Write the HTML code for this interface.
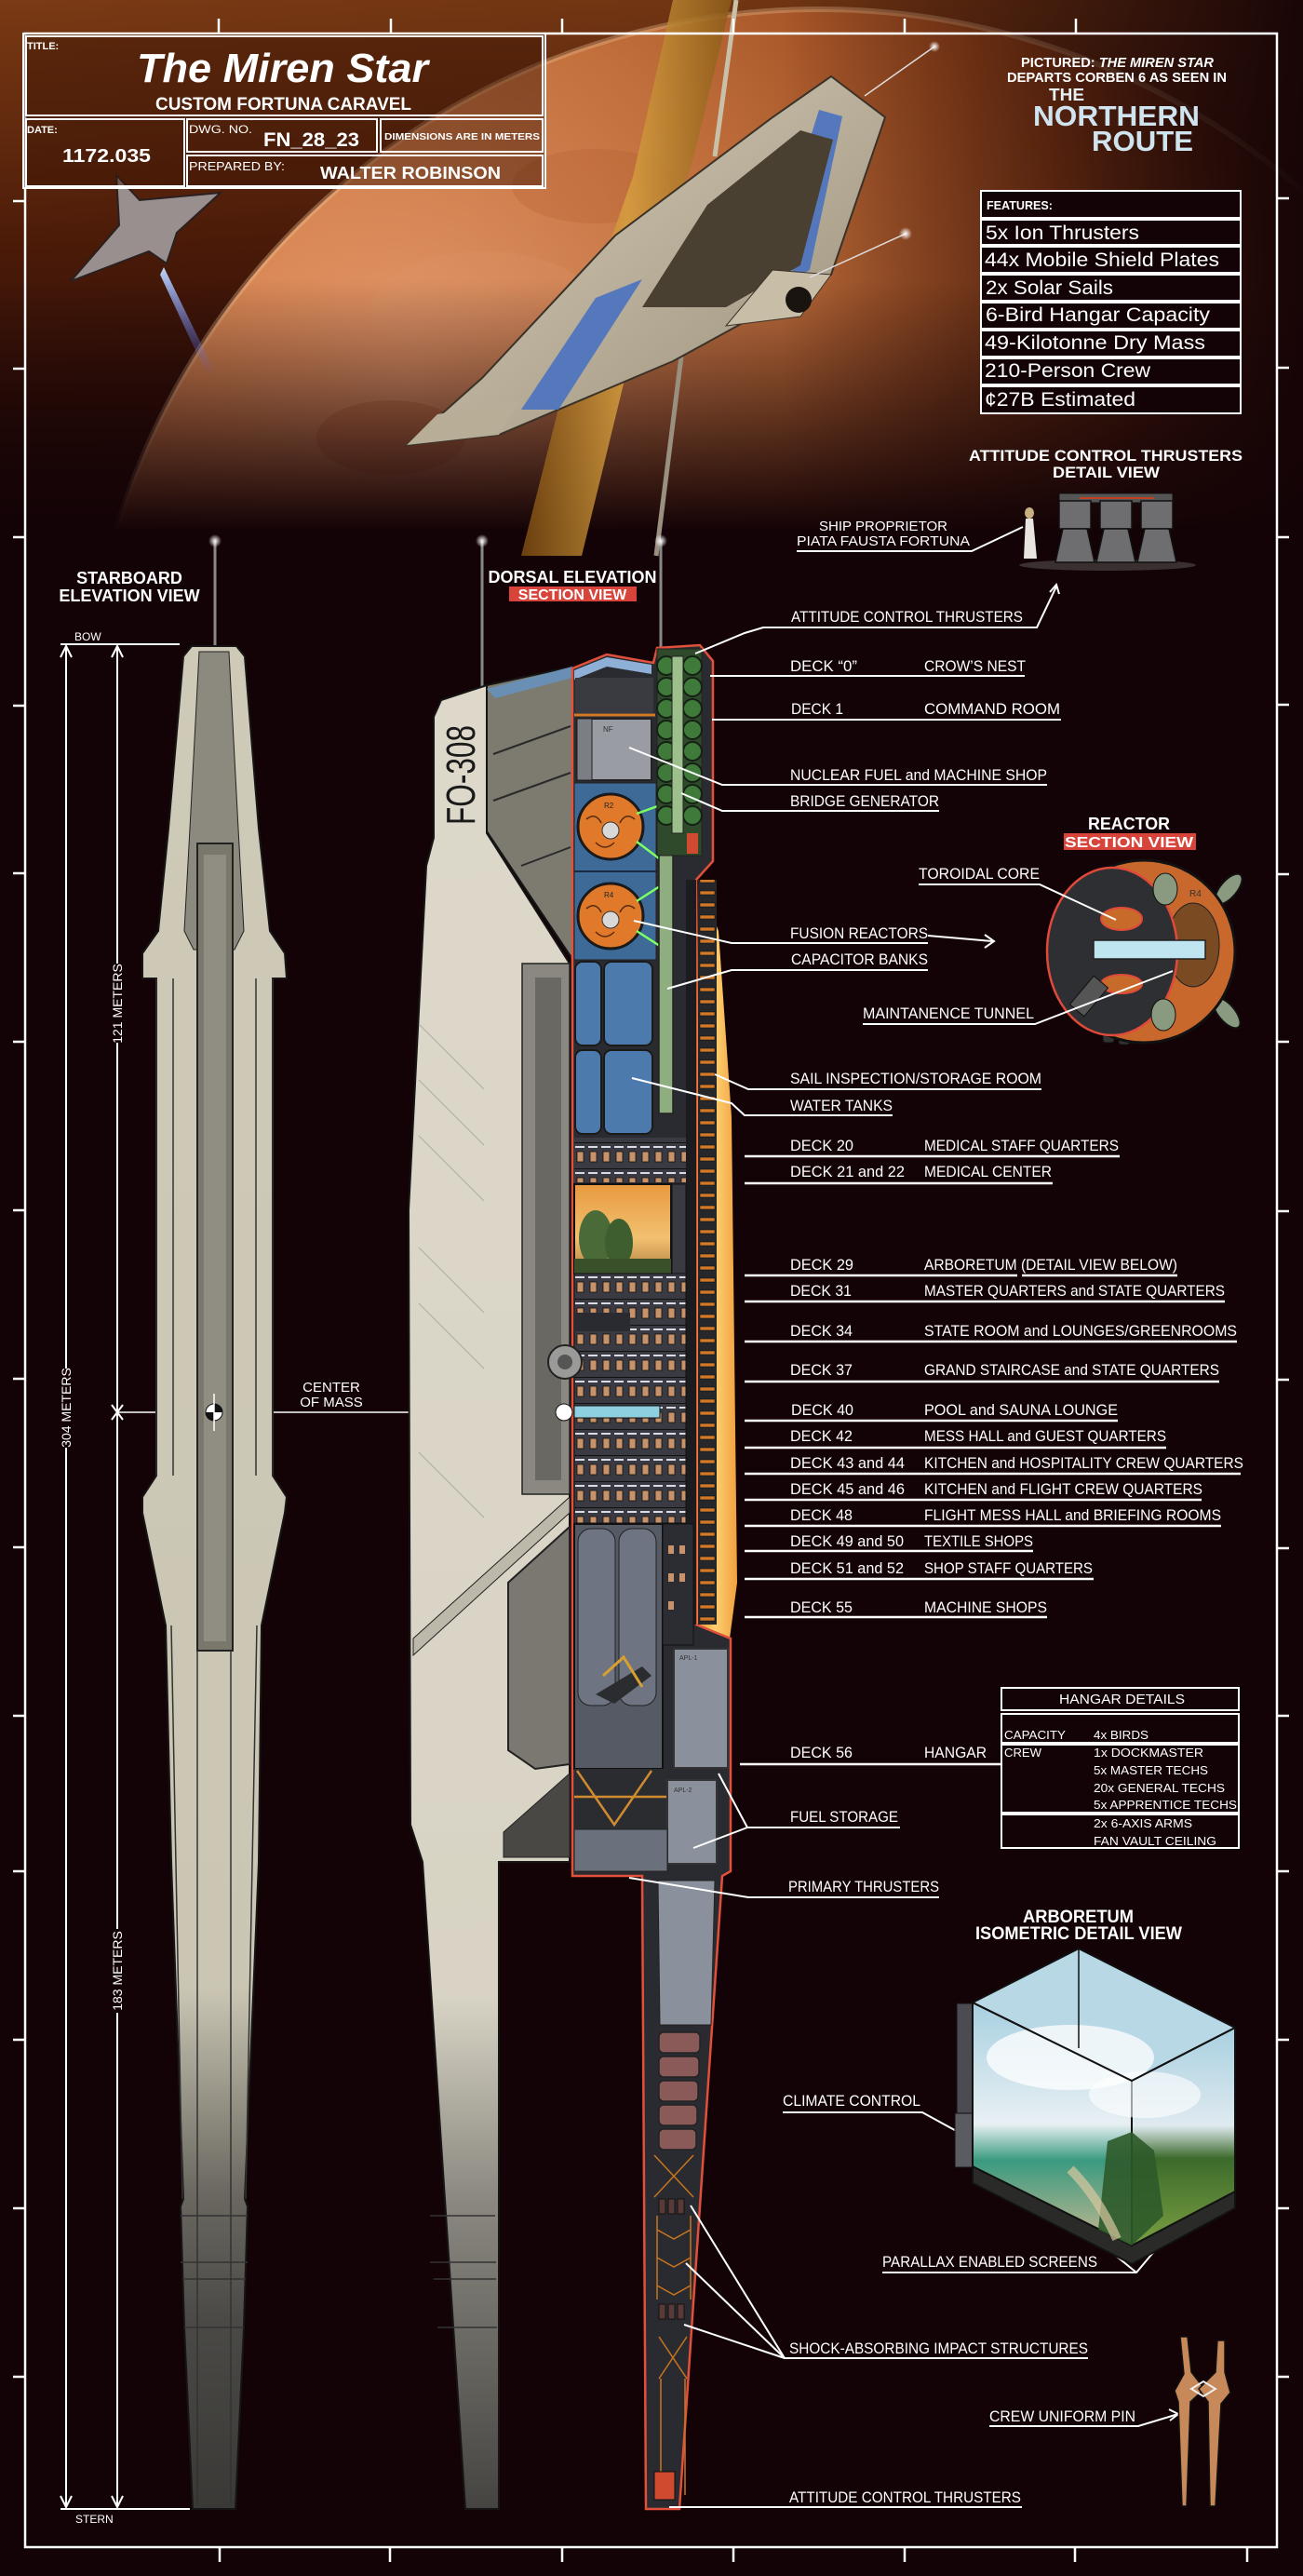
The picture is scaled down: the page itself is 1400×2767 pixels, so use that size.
<!DOCTYPE html>
<html><head><meta charset="utf-8"><style>
html,body{margin:0;padding:0;background:#140306;}
svg{display:block}
text{font-family:"Liberation Sans",sans-serif;fill:#fff}
.l{font-size:17px}
.b{font-weight:bold}
.ln{stroke:#fff;stroke-width:2;fill:none}
.ul{stroke:#fff;stroke-width:2.5;fill:none}
.bx{stroke:#fff;stroke-width:2;fill:none}
.ol{stroke:#151515;stroke-width:2}
</style></head><body>
<svg width="1400" height="2767" viewBox="0 0 1400 2767" xmlns="http://www.w3.org/2000/svg">
<defs>
<clipPath id="topclip"><rect x="0" y="0" width="1400" height="600"/></clipPath>
<linearGradient id="sky" x1="0" y1="0" x2="0" y2="1">
<stop offset="0" stop-color="#7a3a14"/><stop offset="0.45" stop-color="#4a1a08"/><stop offset="1" stop-color="#140306"/></linearGradient>
<radialGradient id="planet" cx="0.22" cy="0.25" r="0.85">
<stop offset="0" stop-color="#f0a070"/><stop offset="0.3" stop-color="#d07840"/><stop offset="0.55" stop-color="#a04818"/><stop offset="0.8" stop-color="#4a1808"/><stop offset="1" stop-color="#1a0505"/></radialGradient>
<linearGradient id="fade" x1="0" y1="0" x2="0" y2="1">
<stop offset="0" stop-color="#140306" stop-opacity="0"/><stop offset="1" stop-color="#140306" stop-opacity="1"/></linearGradient>
<linearGradient id="rfade" x1="0" y1="0" x2="1" y2="0">
<stop offset="0" stop-color="#140306" stop-opacity="0"/><stop offset="0.6" stop-color="#140306" stop-opacity="0.1"/><stop offset="1" stop-color="#140306" stop-opacity="0.95"/></linearGradient>
<linearGradient id="sail" x1="0" y1="0" x2="1" y2="0">
<stop offset="0" stop-color="#7a4a10"/><stop offset="0.5" stop-color="#d8a040"/><stop offset="1" stop-color="#8a5a18"/></linearGradient>
<linearGradient id="hullT" x1="0" y1="0" x2="1" y2="1">
<stop offset="0" stop-color="#d8d0bc"/><stop offset="1" stop-color="#9a8e78"/></linearGradient>
<linearGradient id="starb" x1="0" y1="0" x2="0" y2="1">
<stop offset="0" stop-color="#cfcab8"/><stop offset="0.72" stop-color="#cbc6b4"/><stop offset="0.83" stop-color="#6a6860"/><stop offset="0.9" stop-color="#4a4946"/><stop offset="1" stop-color="#3a3936"/></linearGradient>
<linearGradient id="dors" x1="0" y1="0" x2="0" y2="1">
<stop offset="0" stop-color="#ddd8ca"/><stop offset="0.72" stop-color="#d8d3c4"/><stop offset="0.83" stop-color="#8a8880"/><stop offset="1" stop-color="#454441"/></linearGradient>
<linearGradient id="glow" x1="0" y1="0" x2="1" y2="0">
<stop offset="0" stop-color="#e08a20"/><stop offset="0.5" stop-color="#ffcf70"/><stop offset="1" stop-color="#f0a040"/></linearGradient>
<linearGradient id="arb" x1="0" y1="0" x2="0" y2="1">
<stop offset="0" stop-color="#e89a40"/><stop offset="0.6" stop-color="#f2c070"/><stop offset="1" stop-color="#b08040"/></linearGradient>
<linearGradient id="cubeL" x1="0" y1="0" x2="0" y2="1">
<stop offset="0" stop-color="#a8d0e0"/><stop offset="0.5" stop-color="#e8f0f4"/><stop offset="0.65" stop-color="#3a9a80"/><stop offset="1" stop-color="#c8b890"/></linearGradient>
<linearGradient id="cubeR" x1="0" y1="0" x2="0" y2="1">
<stop offset="0" stop-color="#a8d0e0"/><stop offset="0.45" stop-color="#dfeaf0"/><stop offset="0.6" stop-color="#3c6a2c"/><stop offset="1" stop-color="#7aa040"/></linearGradient>
<radialGradient id="star"><stop offset="0" stop-color="#fff"/><stop offset="0.4" stop-color="#fff" stop-opacity="0.6"/><stop offset="1" stop-color="#fff" stop-opacity="0"/></radialGradient>
<linearGradient id="trail" x1="0" y1="0" x2="0" y2="1"><stop offset="0" stop-color="#c0d8ff"/><stop offset="1" stop-color="#4060ff" stop-opacity="0"/></linearGradient>
<pattern id="win" width="14" height="28" patternUnits="userSpaceOnUse" x="617" y="1368">
<rect width="14" height="28" fill="#3a3b42"/><rect x="3" y="9" width="7" height="11" fill="#c8936a" stroke="#111" stroke-width="0.8"/><rect x="1" y="3" width="10" height="2" fill="#d8dce4"/><line x1="0" y1="27.5" x2="14" y2="27.5" stroke="#111"/></pattern>
<pattern id="rung" width="20" height="13" patternUnits="userSpaceOnUse" x="750" y="940">
<rect width="20" height="13" fill="#26272b"/><rect x="2" y="4" width="16" height="4" fill="#d07a2a" stroke="#111" stroke-width="0.6"/></pattern>
</defs>

<rect width="1400" height="2767" fill="#140306"/>
<!-- top scene -->
<g clip-path="url(#topclip)">
<rect x="0" y="0" width="1400" height="600" fill="url(#sky)"/>
<circle cx="880" cy="800" r="790" fill="url(#planet)"/>
<circle cx="880" cy="800" r="790" fill="none" stroke="#ffd0a0" stroke-opacity="0.35" stroke-width="6"/>
<ellipse cx="520" cy="330" rx="120" ry="60" fill="#e8a070" opacity="0.25"/>
<ellipse cx="420" cy="470" rx="80" ry="40" fill="#b05020" opacity="0.25"/>
<ellipse cx="640" cy="200" rx="90" ry="40" fill="#c06030" opacity="0.25"/>
<rect x="0" y="0" width="1400" height="600" fill="url(#rfade)"/>
<rect x="0" y="300" width="1400" height="270" fill="url(#fade)"/>
<rect x="0" y="568" width="1400" height="40" fill="#140306"/>
<!-- sail -->
<polygon points="723,0 786,0 745,170 690,330 625,597 560,597 620,360 680,190" fill="url(#sail)" opacity="0.85"/>
<line x1="791" y1="0" x2="768" y2="168" stroke="#c8c0a8" stroke-width="5"/>
<line x1="732" y1="383" x2="705" y2="597" stroke="#9a9080" stroke-width="5"/>
<!-- big ship -->
<polygon points="893,82 951,126 893,295 723,388 536,467 437,478 518,406 661,253 830,126" fill="url(#hullT)" stroke="#3a3228" stroke-width="2"/>
<polygon points="880,118 905,125 870,290 850,300 870,150" fill="#4a72c0" opacity="0.9"/>
<polygon points="640,320 690,300 600,440 560,440" fill="#4a72c0" opacity="0.9"/>
<polygon points="860,140 895,150 860,285 780,330 690,330 760,220" fill="#4a4032"/>
<polygon points="830,290 893,295 860,340 780,350" fill="#c8bea8" stroke="#3a3228"/>
<circle cx="858" cy="322" r="14" fill="#1a1410"/>
<polygon points="536,467 437,478 470,445 560,430" fill="#b8ae98"/>
<line x1="929" y1="103" x2="1004" y2="50" stroke="#ddd" stroke-width="1.5"/>
<line x1="870" y1="298" x2="973" y2="251" stroke="#ddd" stroke-width="1.5"/>
<circle cx="1004" cy="50" r="6" fill="url(#star)"/><circle cx="973" cy="251" r="7" fill="url(#star)"/>
<!-- small ship -->
<polygon points="176,287 232,402 222,402 172,295" fill="url(#trail)"/>
<polygon points="125,188 150,215 237,207 190,250 179,283 160,270 76,302 128,242" fill="#9a8f8f" stroke="#2a2020" stroke-width="2"/>
</g>

<!-- frame -->
<rect x="27" y="36" width="1345" height="2700" fill="none" stroke="#fff" stroke-width="2.5"/>
<g stroke="#fff" stroke-width="2.5">
<line x1="235" y1="20" x2="235" y2="36"/><line x1="420" y1="20" x2="420" y2="36"/><line x1="604" y1="20" x2="604" y2="36"/><line x1="788" y1="20" x2="788" y2="36"/><line x1="972" y1="20" x2="972" y2="36"/><line x1="1156" y1="20" x2="1156" y2="36"/>
<line x1="236" y1="2736" x2="236" y2="2752"/><line x1="419" y1="2736" x2="419" y2="2752"/><line x1="604" y1="2736" x2="604" y2="2752"/><line x1="788" y1="2736" x2="788" y2="2752"/><line x1="972" y1="2736" x2="972" y2="2752"/><line x1="1155" y1="2736" x2="1155" y2="2752"/><line x1="1340" y1="2736" x2="1340" y2="2752"/>
<path d="M14 216H27M14 396H27M14 577H27M14 758H27M14 938H27M14 1119H27M14 1300H27M14 1481H27M14 1662H27M14 1843H27M14 2010H27M14 2191H27M14 2372H27M14 2553H27"/>
<path d="M1372 213H1385M1372 395H1385M1372 577H1385M1372 757H1385M1372 939H1385M1372 1119H1385M1372 1301H1385M1372 1482H1385M1372 1663H1385M1372 1843H1385M1372 2010H1385M1372 2191H1385M1372 2372H1385M1372 2553H1385"/>
</g>

<!-- title block -->
<rect x="25" y="36" width="561" height="166" fill="#3a1405" opacity="0.45"/>
<rect x="25" y="36" width="561" height="166" class="bx" stroke-width="2.5"/>
<rect x="28" y="39" width="555" height="85" class="bx" stroke-width="1.5"/>
<rect x="28" y="128" width="170" height="72" class="bx" stroke-width="1.5"/>
<rect x="201" y="128" width="204" height="35" class="bx" stroke-width="1.5"/>
<rect x="409" y="128" width="174" height="35" class="bx" stroke-width="1.5"/>
<rect x="201" y="167" width="382" height="33" class="bx" stroke-width="1.5"/>
<text x="29" y="53" font-size="11" class="b">TITLE:</text>
<text x="147" y="88" font-size="44" class="b" font-style="italic" textLength="313" lengthAdjust="spacingAndGlyphs">The Miren Star</text>
<text x="167" y="118" font-size="19" class="b" textLength="275" lengthAdjust="spacingAndGlyphs">CUSTOM FORTUNA CARAVEL</text>
<text x="29" y="143" font-size="11" class="b">DATE:</text>
<text x="67" y="174" font-size="20" class="b" textLength="95" lengthAdjust="spacingAndGlyphs">1172.035</text>
<text x="203" y="143" font-size="12" textLength="68" lengthAdjust="spacingAndGlyphs">DWG. NO.</text>
<text x="283" y="157" font-size="21" class="b" textLength="103" lengthAdjust="spacingAndGlyphs">FN_28_23</text>
<text x="413" y="150" font-size="10" class="b" textLength="167" lengthAdjust="spacingAndGlyphs">DIMENSIONS ARE IN METERS</text>
<text x="203" y="183" font-size="13" textLength="103" lengthAdjust="spacingAndGlyphs">PREPARED BY:</text>
<text x="344" y="192" font-size="18" class="b" textLength="194" lengthAdjust="spacingAndGlyphs">WALTER ROBINSON</text>

<!-- pictured -->
<text x="1097" y="72" font-size="15" class="b" textLength="207" lengthAdjust="spacingAndGlyphs">PICTURED: <tspan font-style="italic">THE MIREN STAR</tspan></text>
<text x="1082" y="88" font-size="15" class="b" textLength="236" lengthAdjust="spacingAndGlyphs">DEPARTS CORBEN 6 AS SEEN IN</text>
<text x="1127" y="108" font-size="18" class="b" textLength="38" lengthAdjust="spacingAndGlyphs" style="fill:#e8f0f4">THE</text>
<text x="1110" y="135" font-size="31" class="b" textLength="179" lengthAdjust="spacingAndGlyphs" style="fill:#cfe4ee">NORTHERN</text>
<text x="1173" y="162" font-size="31" class="b" textLength="109" lengthAdjust="spacingAndGlyphs" style="fill:#cfe4ee">ROUTE</text>

<!-- features -->
<g fill="#140306" stroke="#fff" stroke-width="2">
<rect x="1054" y="205" width="279" height="29"/><rect x="1054" y="236" width="279" height="27"/><rect x="1054" y="265" width="279" height="28"/><rect x="1054" y="295" width="279" height="28"/><rect x="1054" y="325" width="279" height="28"/><rect x="1054" y="355" width="279" height="28"/><rect x="1054" y="385" width="279" height="28"/><rect x="1054" y="415" width="279" height="29"/></g>
<text x="1060" y="225" font-size="13" class="b" textLength="71" lengthAdjust="spacingAndGlyphs">FEATURES:</text>
<g font-size="21">
<text x="1059" y="257" textLength="165" lengthAdjust="spacingAndGlyphs">5x Ion Thrusters</text>
<text x="1058" y="286" textLength="252" lengthAdjust="spacingAndGlyphs">44x Mobile Shield Plates</text>
<text x="1059" y="316" textLength="137" lengthAdjust="spacingAndGlyphs">2x Solar Sails</text>
<text x="1059" y="345" textLength="241" lengthAdjust="spacingAndGlyphs">6-Bird Hangar Capacity</text>
<text x="1058" y="375" textLength="237" lengthAdjust="spacingAndGlyphs">49-Kilotonne Dry Mass</text>
<text x="1058" y="405" textLength="178" lengthAdjust="spacingAndGlyphs">210-Person Crew</text>
<text x="1058" y="436" textLength="162" lengthAdjust="spacingAndGlyphs">¢27B Estimated</text></g>

<!-- attitude detail -->
<text x="1041" y="495" font-size="17" class="b" textLength="294" lengthAdjust="spacingAndGlyphs">ATTITUDE CONTROL THRUSTERS</text>
<text x="1131" y="513" font-size="17" class="b" textLength="115" lengthAdjust="spacingAndGlyphs">DETAIL VIEW</text>
<ellipse cx="1190" cy="607" rx="95" ry="6" fill="#3a3030"/>
<rect x="1138" y="530" width="122" height="10" fill="#555" stroke="#111"/>
<line x1="1160" y1="535" x2="1240" y2="535" stroke="#c04020" stroke-width="2"/>
<g fill="#6e6e70" stroke="#111" stroke-width="1.5">
<rect x="1138" y="538" width="34" height="30"/><rect x="1182" y="538" width="34" height="30"/><rect x="1226" y="538" width="34" height="30"/>
<polygon points="1142,568 1168,568 1176,604 1134,604"/><polygon points="1186,568 1212,568 1220,604 1178,604"/><polygon points="1230,568 1256,568 1264,604 1222,604"/></g>
<ellipse cx="1106" cy="551" rx="5" ry="6" fill="#c8b080"/>
<polygon points="1102,557 1110,557 1114,600 1100,600" fill="#e8e4e0"/>
<text x="880" y="570" font-size="15" textLength="138" lengthAdjust="spacingAndGlyphs">SHIP PROPRIETOR</text>
<text x="856" y="586" font-size="15" textLength="186" lengthAdjust="spacingAndGlyphs">PIATA FAUSTA FORTUNA</text>
<polyline class="ln" points="856,592 1044,592 1099,566"/>
<polyline class="ln" points="1099,674 1114,674 1135,630"/>
<polyline class="ln" points="1128,636 1135,628 1138,638"/>

<!-- titles for views -->
<text x="139" y="627" font-size="18" class="b" text-anchor="middle">STARBOARD</text>
<text x="139" y="646" font-size="18" class="b" text-anchor="middle">ELEVATION VIEW</text>
<text x="615" y="626" font-size="18" class="b" text-anchor="middle">DORSAL ELEVATION</text>
<rect x="547" y="630" width="137" height="16" fill="#d8443a"/>
<text x="615" y="644" font-size="16" class="b" text-anchor="middle">SECTION VIEW</text>

<!-- antennas -->
<g stroke="#888" stroke-width="3"><line x1="231" y1="582" x2="231" y2="694"/><line x1="518" y1="582" x2="518" y2="738"/><line x1="710" y1="582" x2="710" y2="696"/></g>
<circle cx="231" cy="581" r="7" fill="url(#star)"/><circle cx="518" cy="581" r="7" fill="url(#star)"/><circle cx="710" cy="581" r="7" fill="url(#star)"/>

<!-- dimensions -->
<g class="ln">
<line x1="65" y1="692" x2="193" y2="692"/><line x1="65" y1="2695" x2="204" y2="2695"/>
<line x1="71" y1="694" x2="71" y2="1470"/><line x1="71" y1="1555" x2="71" y2="2693"/>
<line x1="126" y1="694" x2="126" y2="1035"/><line x1="126" y1="1120" x2="126" y2="2072"/><line x1="126" y1="2162" x2="126" y2="2693"/>
<polyline points="65,706 71,694 77,706"/><polyline points="120,706 126,694 132,706"/>
<polyline points="65,2681 71,2693 77,2681"/><polyline points="120,2681 126,2693 132,2681"/>
<line x1="120" y1="1509" x2="132" y2="1525"/><line x1="132" y1="1509" x2="120" y2="1525"/>
<line x1="126" y1="1517" x2="612" y2="1517" stroke-width="1.5"/>
</g>
<text x="80" y="688" font-size="12">BOW</text>
<text x="81" y="2710" font-size="12">STERN</text>
<text transform="translate(76,1512) rotate(-90)" font-size="14" text-anchor="middle">304 METERS</text>
<text transform="translate(131,1078) rotate(-90)" font-size="14" text-anchor="middle">121 METERS</text>
<text transform="translate(131,2117) rotate(-90)" font-size="14" text-anchor="middle">183 METERS</text>
<text x="356" y="1495" font-size="15" text-anchor="middle">CENTER</text>
<text x="356" y="1511" font-size="15" text-anchor="middle">OF MASS</text>

<!-- starboard ship -->
<path d="M206,694 L254,694 L263,705 L278,890 L290,1000 L306,1024 L308,1051 L293,1051 L293,1585 L308,1608 L306,1625 L281,1746 L278,2000 L263,2362 L266,2370 L262,2500 L253,2695 L207,2695 L198,2500 L194,2370 L197,2362 L184,2000 L178,1746 L153,1625 L153,1608 L168,1585 L168,1051 L153,1051 L153,1024 L170,1000 L181,890 L197,705 Z" fill="url(#starb)" class="ol"/>
<path d="M214,700 L246,700 L256,890 L262,1000 L252,1020 L208,1020 L198,1000 L204,890 Z" fill="#8c897e" stroke="#222"/>
<rect x="212" y="906" width="38" height="867" fill="#7a776c" stroke="#222" stroke-width="2"/>
<rect x="219" y="918" width="24" height="845" fill="#908d82"/>
<g stroke="#333" stroke-width="1.5" fill="none">
<path d="M168,1051 L168,1585 M293,1051 L293,1585 M186,1051 L186,1585 M275,1051 L275,1585"/>
<path d="M184,1746 L196,2362 M276,1746 L264,2362 M212,1773 L212,2690 M248,1773 L248,2690"/>
<path d="M194,2380 H266 M194,2430 H266 M196,2448 H264 M198,2500 H262"/>
</g>
<circle cx="230" cy="1517" r="9" fill="#fff" stroke="#111"/><path d="M230,1508 A9,9 0 0 1 239,1517 L230,1517Z M230,1526 A9,9 0 0 1 221,1517 L230,1517Z" fill="#111"/>
<line x1="230" y1="1497" x2="230" y2="1537" stroke="#fff" stroke-width="1.5"/>

<!-- dorsal ship -->
<path d="M474,752 L523,736 L523,895 L612,1035 L612,2000 L536,2000 L536,2695 L500,2695 L454,2000 L441,1960 L439,1300 L458,930 L466,900 L466,770 Z" fill="url(#dors)" class="ol"/>
<polygon points="523,736 615,716 615,1030 523,893" fill="#7d7a70" stroke="#151515" stroke-width="2"/>
<polygon points="523,740 615,716 615,728 532,750" fill="#6a8fb5"/>
<g stroke="#2a2a2a" stroke-width="2"><line x1="530" y1="810" x2="613" y2="780"/><line x1="530" y1="860" x2="613" y2="830"/><line x1="560" y1="930" x2="613" y2="910"/></g>
<rect x="561" y="1035" width="51" height="570" fill="#8a8880" stroke="#222" stroke-width="1.5"/>
<rect x="575" y="1050" width="28" height="540" fill="#6a6862"/>
<polygon points="612,1608 444,1760 444,1778 612,1625" fill="#bdb8aa" stroke="#222"/>
<polygon points="612,1640 546,1700 546,1880 575,1900 612,1895" fill="#7a7870" stroke="#222" stroke-width="2"/>
<polygon points="612,1905 541,1968 541,1995 612,1995" fill="#4a4844" stroke="#222"/>
<text transform="translate(510,886) rotate(-90)" font-size="44" style="fill:#1a1a1a" textLength="107" lengthAdjust="spacingAndGlyphs">FO-308</text>
<g stroke="#999" stroke-width="1" fill="none" opacity="0.7">
<path d="M450,1100 L520,1170 M450,1160 L520,1230 M450,1220 L520,1290 M450,1340 L520,1410 M450,1400 L520,1470 M450,1560 L520,1630"/></g>
<g stroke="#333" stroke-width="1.5"><path d="M462,2380 H532 M462,2430 H533 M466,2448 H533 M470,2500 H534"/></g>

<!-- section view -->
<polygon points="750,945 772,1000 786,1200 792,1700 784,1760 745,1745" fill="url(#glow)"/>
<path d="M615,718 L652,703 L702,712 L706,696 L752,693 L766,710 L766,925 L748,945 L748,1745 L785,1760 L785,2010 L776,2015 L730,2695 L694,2695 L690,2015 L615,2015 Z" fill="#2a2b30" stroke="#e0503a" stroke-width="2.5"/>
<rect x="737" y="945" width="11" height="800" fill="#1c1c20"/>
<rect x="750" y="945" width="20" height="800" fill="url(#rung)"/>
<polygon points="617,720 652,706 700,714 700,724 652,716 617,730" fill="#8fb0d6"/>
<rect x="618" y="728" width="84" height="38" fill="#3a3b40"/>
<line x1="617" y1="768" x2="704" y2="768" stroke="#d07a2a" stroke-width="3"/>
<rect x="620" y="772" width="80" height="66" fill="#9a9ca4" stroke="#222" stroke-width="2"/>
<rect x="620" y="772" width="16" height="66" fill="#7c7e86" stroke="#222"/>
<text x="648" y="786" font-size="8" style="fill:#333">NF</text>
<rect x="617" y="841" width="88" height="190" fill="#3e6a98" stroke="#222"/>
<g stroke="#1a2a40" stroke-width="2"><line x1="617" y1="936" x2="705" y2="936"/></g>
<circle cx="656" cy="888" r="35" fill="#e07a2a" stroke="#1a1a1a" stroke-width="3"/>
<circle cx="656" cy="984" r="35" fill="#e07a2a" stroke="#1a1a1a" stroke-width="3"/>
<g stroke="#5a2a10" stroke-width="1.5" fill="none"><path d="M630,880 Q640,872 646,884 M682,880 Q672,872 666,884 M640,905 Q650,915 660,905 M630,976 Q640,968 646,980 M682,976 Q672,968 666,980 M640,1001 Q650,1011 660,1001"/></g>
<circle cx="656" cy="892" r="9" fill="#d8d8d8" stroke="#333"/><circle cx="656" cy="988" r="9" fill="#d8d8d8" stroke="#333"/>
<text x="649" y="868" font-size="8" style="fill:#222">R2</text><text x="649" y="964" font-size="8" style="fill:#222">R4</text>
<g stroke="#7cff60" stroke-width="2.5"><line x1="684" y1="874" x2="712" y2="864"/><line x1="684" y1="904" x2="712" y2="925"/><line x1="684" y1="968" x2="712" y2="950"/><line x1="684" y1="1000" x2="712" y2="1018"/></g>
<rect x="708" y="886" width="15" height="310" fill="#8fae80" stroke="#222" stroke-width="1.5"/>
<rect x="706" y="697" width="48" height="222" fill="#2f4a2b" stroke="#222"/>
<g fill="#3f7a3a" stroke="#142014" stroke-width="2">
<circle cx="716" cy="715" r="10"/><circle cx="744" cy="715" r="10"/><circle cx="716" cy="738" r="10"/><circle cx="744" cy="738" r="10"/><circle cx="716" cy="761" r="10"/><circle cx="744" cy="761" r="10"/><circle cx="716" cy="784" r="10"/><circle cx="744" cy="784" r="10"/><circle cx="716" cy="807" r="10"/><circle cx="744" cy="807" r="10"/><circle cx="716" cy="830" r="10"/><circle cx="744" cy="830" r="10"/><circle cx="716" cy="853" r="10"/><circle cx="744" cy="853" r="10"/><circle cx="716" cy="876" r="10"/><circle cx="744" cy="876" r="10"/></g>
<rect x="722" y="705" width="12" height="190" fill="#9cbf8c" stroke="#222"/>
<rect x="738" y="895" width="12" height="22" fill="#d04a30"/>
<g fill="#4d7aac" stroke="#1a1a1a" stroke-width="2">
<rect x="618" y="1033" width="28" height="90" rx="8"/><rect x="649" y="1033" width="52" height="90" rx="8"/>
<rect x="618" y="1128" width="28" height="90" rx="8"/><rect x="649" y="1128" width="52" height="90" rx="8"/></g>
<rect x="617" y="1222" width="120" height="48" fill="url(#win)"/>
<rect x="617" y="1272" width="104" height="96" fill="url(#arb)" stroke="#111" stroke-width="2"/>
<ellipse cx="640" cy="1330" rx="18" ry="30" fill="#4a6a38"/><ellipse cx="665" cy="1335" rx="15" ry="26" fill="#3e5e30"/>
<rect x="617" y="1352" width="104" height="16" fill="#3a5028"/>
<rect x="722" y="1272" width="15" height="96" fill="#3a3b42" stroke="#111"/>
<rect x="617" y="1368" width="120" height="268" fill="url(#win)" stroke="#111"/>
<rect x="617" y="1410" width="60" height="20" fill="#2a2b30"/>
<rect x="617" y="1510" width="92" height="13" fill="#8fd0e0" stroke="#111"/>
<circle cx="607" cy="1463" r="18" fill="#9a9a98" stroke="#222" stroke-width="2"/><circle cx="607" cy="1463" r="8" fill="#555"/>
<circle cx="606" cy="1517" r="9" fill="#fff" stroke="#111"/>
<rect x="617" y="1637" width="95" height="263" fill="#565a64" stroke="#111" stroke-width="2"/>
<rect x="621" y="1642" width="40" height="190" rx="14" fill="#6e7482" stroke="#222"/><rect x="665" y="1642" width="40" height="190" rx="14" fill="#6e7482" stroke="#222"/>
<polygon points="640,1820 690,1790 700,1800 660,1830" fill="#2a2c30"/>
<polyline points="648,1800 670,1780 690,1812" stroke="#d8a030" stroke-width="3" fill="none"/>
<rect x="712" y="1637" width="33" height="130" fill="#2c2d32" stroke="#111"/>
<g fill="#c8936a"><rect x="718" y="1660" width="6" height="9"/><rect x="730" y="1660" width="6" height="9"/><rect x="718" y="1690" width="6" height="9"/><rect x="730" y="1690" width="6" height="9"/><rect x="718" y="1720" width="6" height="9"/></g>
<rect x="724" y="1771" width="58" height="128" fill="#8a909c" stroke="#333" stroke-width="2"/>
<text x="730" y="1783" font-size="7" style="fill:#333">APL-1</text>
<rect x="617" y="1900" width="100" height="65" fill="#2b2c30"/>
<g stroke="#d08a30" stroke-width="2.5" fill="none"><path d="M620,1902 L660,1960 L700,1902 M617,1930 H717"/></g>
<rect x="717" y="1912" width="53" height="90" fill="#8a909c" stroke="#333" stroke-width="2"/>
<text x="724" y="1925" font-size="7" style="fill:#333">APL-2</text>
<rect x="617" y="1965" width="100" height="45" fill="#6a707c" stroke="#222"/>
<polygon points="707,2020 768,2020 764,2175 709,2175" fill="#8a909c" stroke="#222"/>
<g fill="#8a5a58" stroke="#222" stroke-width="1.5">
<rect x="708" y="2183" width="44" height="22" rx="5"/><rect x="708" y="2209" width="43" height="22" rx="5"/><rect x="708" y="2235" width="42" height="22" rx="5"/><rect x="708" y="2261" width="41" height="22" rx="5"/><rect x="708" y="2287" width="40" height="22" rx="5"/></g>
<g stroke="#c8741e" stroke-width="1.5" fill="none">
<path d="M703,2315 L745,2360 M745,2315 L703,2360 M706,2380 V2470 M742,2380 V2470 M706,2395 L724,2405 L742,2395 M706,2425 L724,2435 L742,2425 M706,2455 L724,2465 L742,2455 M708,2510 L738,2555 M738,2510 L708,2555 M710,2555 V2680 M736,2555 V2680"/></g>
<g fill="#5a3a38" stroke="#111"><rect x="708" y="2362" width="7" height="16"/><rect x="718" y="2362" width="7" height="16"/><rect x="728" y="2362" width="7" height="16"/><rect x="708" y="2475" width="7" height="16"/><rect x="718" y="2475" width="7" height="16"/><rect x="728" y="2475" width="7" height="16"/></g>
<rect x="703" y="2655" width="22" height="30" fill="#d04a30" stroke="#111"/>

<!-- reactor detail -->
<text x="1213" y="891" font-size="18" class="b" text-anchor="middle" textLength="88" lengthAdjust="spacingAndGlyphs">REACTOR</text>
<rect x="1143" y="895" width="142" height="18" fill="#d8443a"/>
<text x="1213" y="910" font-size="16" class="b" text-anchor="middle" textLength="138" lengthAdjust="spacingAndGlyphs">SECTION VIEW</text>
<ellipse cx="1320" cy="955" rx="9" ry="20" transform="rotate(40 1320 955)" fill="#8a9a80" stroke="#111" stroke-width="2"/>
<ellipse cx="1318" cy="1088" rx="9" ry="20" transform="rotate(-40 1318 1088)" fill="#8a9a80" stroke="#111" stroke-width="2"/>
<g fill="#333" stroke="#111"><rect x="1185" y="1098" width="12" height="22" rx="3"/><rect x="1202" y="1100" width="12" height="22" rx="3"/><rect x="1245" y="1098" width="10" height="20" rx="3"/></g>
<ellipse cx="1229" cy="1022" rx="98" ry="98" fill="#c8682c" stroke="#111" stroke-width="3"/>
<ellipse cx="1282" cy="1015" rx="28" ry="45" fill="#7a4a22" stroke="#222"/>
<ellipse cx="1195" cy="1022" rx="70" ry="90" fill="#2e2f33" stroke="#e04a3a" stroke-width="2.5"/>
<ellipse cx="1252" cy="955" rx="13" ry="17" fill="#8a9a80" stroke="#111"/><ellipse cx="1250" cy="1090" rx="13" ry="17" fill="#8a9a80" stroke="#111"/>
<ellipse cx="1205" cy="987" rx="22" ry="12" fill="#c86a2a" stroke="#e04a3a" stroke-width="2"/>
<ellipse cx="1205" cy="1057" rx="22" ry="10" fill="#c86a2a" stroke="#e04a3a" stroke-width="2"/>
<rect x="1175" y="1010" width="120" height="20" fill="#bfe6f0" stroke="#222" stroke-width="1.5"/>
<rect x="1160" y="1050" width="20" height="40" fill="#555" stroke="#111" transform="rotate(40 1170 1070)"/>
<text x="1278" y="963" font-size="10" style="fill:#333">R4</text>

<!-- leaders upper -->
<g class="ln">
<polyline points="747,702 800,680 820,674 1099,674"/>
<polyline points="763,726 1101,726"/>
<polyline points="765,773 1140,773"/>
<polyline points="676,803 776,843 1125,843"/>
<polyline points="732,852 776,871 1009,871"/>
<polyline points="681,989 786,1013 997,1013"/>
<polyline points="717,1062 786,1042 997,1042"/>
<polyline points="997,1005 1066,1011"/><polyline points="1058,1004 1068,1011 1058,1018"/>
<polyline points="987,950 1117,950 1199,988"/>
<polyline points="927,1100 1112,1100 1260,1043"/>
<polyline points="768,1154 804,1170 1119,1170"/>
<polyline points="679,1158 786,1185 800,1198 959,1198"/>
</g>
<g class="l">
<text x="850" y="668" textLength="249" lengthAdjust="spacingAndGlyphs">ATTITUDE CONTROL THRUSTERS</text>
<text x="849" y="721" textLength="72" lengthAdjust="spacingAndGlyphs">DECK “0”</text><text x="993" y="721" textLength="109" lengthAdjust="spacingAndGlyphs">CROW’S NEST</text>
<text x="850" y="767" textLength="56" lengthAdjust="spacingAndGlyphs">DECK 1</text><text x="993" y="767" textLength="146" lengthAdjust="spacingAndGlyphs">COMMAND ROOM</text>
<text x="849" y="838" textLength="276" lengthAdjust="spacingAndGlyphs">NUCLEAR FUEL and MACHINE SHOP</text>
<text x="849" y="866" textLength="160" lengthAdjust="spacingAndGlyphs">BRIDGE GENERATOR</text>
<text x="987" y="944" textLength="130" lengthAdjust="spacingAndGlyphs">TOROIDAL CORE</text>
<text x="849" y="1008" textLength="148" lengthAdjust="spacingAndGlyphs">FUSION REACTORS</text>
<text x="850" y="1036" textLength="147" lengthAdjust="spacingAndGlyphs">CAPACITOR BANKS</text>
<text x="927" y="1094" textLength="184" lengthAdjust="spacingAndGlyphs">MAINTANENCE TUNNEL</text>
<text x="849" y="1164" textLength="270" lengthAdjust="spacingAndGlyphs">SAIL INSPECTION/STORAGE ROOM</text>
<text x="849" y="1193" textLength="110" lengthAdjust="spacingAndGlyphs">WATER TANKS</text>
</g>

<!-- deck list -->
<g class="ul">
<line x1="800" y1="1242" x2="1203" y2="1242"/><line x1="800" y1="1271" x2="1131" y2="1271"/>
<line x1="800" y1="1370" x2="1093" y2="1370"/><line x1="1098" y1="1370" x2="1265" y2="1370"/>
<line x1="800" y1="1398" x2="1316" y2="1398"/><line x1="800" y1="1441" x2="1329" y2="1441"/>
<line x1="800" y1="1484" x2="1310" y2="1484"/><line x1="800" y1="1526" x2="1201" y2="1526"/>
<line x1="800" y1="1555" x2="1253" y2="1555"/><line x1="800" y1="1583" x2="1333" y2="1583"/>
<line x1="800" y1="1611" x2="1291" y2="1611"/><line x1="800" y1="1639" x2="1312" y2="1639"/>
<line x1="800" y1="1666" x2="1110" y2="1666"/><line x1="800" y1="1696" x2="1175" y2="1696"/>
<line x1="800" y1="1737" x2="1125" y2="1737"/>
<line x1="795" y1="1895" x2="1076" y2="1895"/>
</g>
<g class="l">
<text x="849" y="1236" textLength="68" lengthAdjust="spacingAndGlyphs">DECK 20</text><text x="993" y="1236" textLength="209" lengthAdjust="spacingAndGlyphs">MEDICAL STAFF QUARTERS</text>
<text x="849" y="1264" textLength="123" lengthAdjust="spacingAndGlyphs">DECK 21 and 22</text><text x="993" y="1264" textLength="137" lengthAdjust="spacingAndGlyphs">MEDICAL CENTER</text>
<text x="849" y="1364" textLength="68" lengthAdjust="spacingAndGlyphs">DECK 29</text><text x="993" y="1364" textLength="272" lengthAdjust="spacingAndGlyphs">ARBORETUM (DETAIL VIEW BELOW)</text>
<text x="849" y="1392" textLength="66" lengthAdjust="spacingAndGlyphs">DECK 31</text><text x="993" y="1392" textLength="323" lengthAdjust="spacingAndGlyphs">MASTER QUARTERS and STATE QUARTERS</text>
<text x="849" y="1435" textLength="67" lengthAdjust="spacingAndGlyphs">DECK 34</text><text x="993" y="1435" textLength="336" lengthAdjust="spacingAndGlyphs">STATE ROOM and LOUNGES/GREENROOMS</text>
<text x="849" y="1477" textLength="67" lengthAdjust="spacingAndGlyphs">DECK 37</text><text x="993" y="1477" textLength="317" lengthAdjust="spacingAndGlyphs">GRAND STAIRCASE and STATE QUARTERS</text>
<text x="850" y="1520" textLength="67" lengthAdjust="spacingAndGlyphs">DECK 40</text><text x="993" y="1520" textLength="208" lengthAdjust="spacingAndGlyphs">POOL and SAUNA LOUNGE</text>
<text x="849" y="1548" textLength="67" lengthAdjust="spacingAndGlyphs">DECK 42</text><text x="993" y="1548" textLength="260" lengthAdjust="spacingAndGlyphs">MESS HALL and GUEST QUARTERS</text>
<text x="849" y="1577" textLength="123" lengthAdjust="spacingAndGlyphs">DECK 43 and 44</text><text x="993" y="1577" textLength="343" lengthAdjust="spacingAndGlyphs">KITCHEN and HOSPITALITY CREW QUARTERS</text>
<text x="849" y="1605" textLength="123" lengthAdjust="spacingAndGlyphs">DECK 45 and 46</text><text x="993" y="1605" textLength="299" lengthAdjust="spacingAndGlyphs">KITCHEN and FLIGHT CREW QUARTERS</text>
<text x="849" y="1633" textLength="67" lengthAdjust="spacingAndGlyphs">DECK 48</text><text x="993" y="1633" textLength="319" lengthAdjust="spacingAndGlyphs">FLIGHT MESS HALL and BRIEFING ROOMS</text>
<text x="849" y="1661" textLength="122" lengthAdjust="spacingAndGlyphs">DECK 49 and 50</text><text x="993" y="1661" textLength="117" lengthAdjust="spacingAndGlyphs">TEXTILE SHOPS</text>
<text x="849" y="1690" textLength="122" lengthAdjust="spacingAndGlyphs">DECK 51 and 52</text><text x="993" y="1690" textLength="181" lengthAdjust="spacingAndGlyphs">SHOP STAFF QUARTERS</text>
<text x="849" y="1732" textLength="67" lengthAdjust="spacingAndGlyphs">DECK 55</text><text x="993" y="1732" textLength="132" lengthAdjust="spacingAndGlyphs">MACHINE SHOPS</text>
<text x="849" y="1888" textLength="67" lengthAdjust="spacingAndGlyphs">DECK 56</text><text x="993" y="1888" textLength="67" lengthAdjust="spacingAndGlyphs">HANGAR</text>
<text x="849" y="1957" textLength="116" lengthAdjust="spacingAndGlyphs">FUEL STORAGE</text>
<text x="847" y="2032" textLength="162" lengthAdjust="spacingAndGlyphs">PRIMARY THRUSTERS</text>
<text x="841" y="2262" textLength="148" lengthAdjust="spacingAndGlyphs">CLIMATE CONTROL</text>
<text x="948" y="2435" textLength="231" lengthAdjust="spacingAndGlyphs">PARALLAX ENABLED SCREENS</text>
<text x="848" y="2528" textLength="321" lengthAdjust="spacingAndGlyphs">SHOCK-ABSORBING IMPACT STRUCTURES</text>
<text x="1063" y="2601" textLength="157" lengthAdjust="spacingAndGlyphs">CREW UNIFORM PIN</text>
<text x="848" y="2688" textLength="249" lengthAdjust="spacingAndGlyphs">ATTITUDE CONTROL THRUSTERS</text>
</g>
<g class="ln">
<polyline points="772,1905 803,1963 967,1963"/><polyline points="745,1985 803,1963"/>
<polyline points="676,2017 804,2038 1009,2038"/>
<polyline points="1033,2292 991,2269 841,2269"/>
<polyline points="948,2441 1221,2441 1321,2322"/><polyline points="1057,2307 1221,2441"/>
<polyline points="742,2369 843,2533 1169,2533"/><polyline points="737,2431 843,2533"/><polyline points="735,2497 843,2533"/>
<polyline points="1063,2606 1223,2606 1266,2593"/><polyline points="1256,2588 1266,2593 1257,2600"/>
<polyline points="719,2693 1098,2693"/>
</g>

<!-- hangar details -->
<g fill="#140306" stroke="#fff" stroke-width="2">
<rect x="1076" y="1813" width="255" height="24"/><rect x="1076" y="1841" width="255" height="31"/><rect x="1076" y="1874" width="255" height="73"/><rect x="1076" y="1949" width="255" height="36"/></g>
<text x="1138" y="1830" font-size="15" textLength="135" lengthAdjust="spacingAndGlyphs">HANGAR DETAILS</text>
<g font-size="13">
<text x="1079" y="1868" textLength="66" lengthAdjust="spacingAndGlyphs">CAPACITY</text><text x="1175" y="1868" textLength="59" lengthAdjust="spacingAndGlyphs">4x BIRDS</text>
<text x="1079" y="1887" textLength="40" lengthAdjust="spacingAndGlyphs">CREW</text><text x="1175" y="1887" textLength="118" lengthAdjust="spacingAndGlyphs">1x DOCKMASTER</text>
<text x="1175" y="1906" textLength="123" lengthAdjust="spacingAndGlyphs">5x MASTER TECHS</text>
<text x="1175" y="1925" textLength="141" lengthAdjust="spacingAndGlyphs">20x GENERAL TECHS</text>
<text x="1175" y="1943" textLength="154" lengthAdjust="spacingAndGlyphs">5x APPRENTICE TECHS</text>
<text x="1175" y="1963" textLength="106" lengthAdjust="spacingAndGlyphs">2x 6-AXIS ARMS</text>
<text x="1175" y="1982" textLength="132" lengthAdjust="spacingAndGlyphs">FAN VAULT CEILING</text></g>

<!-- arboretum -->
<text x="1099" y="2065" font-size="19" class="b" textLength="119" lengthAdjust="spacingAndGlyphs">ARBORETUM</text>
<text x="1048" y="2083" font-size="19" class="b" textLength="222" lengthAdjust="spacingAndGlyphs">ISOMETRIC DETAIL VIEW</text>
<polygon points="1045,2327 1216,2412 1327,2354 1327,2372 1216,2432 1045,2345" fill="#2a2a28" stroke="#111" stroke-width="2"/>
<rect x="1028" y="2152" width="17" height="150" fill="#4a4c52" stroke="#111"/>
<rect x="1026" y="2270" width="20" height="58" fill="#5a5c62" stroke="#111"/>
<polygon points="1159,2093 1327,2178 1216,2235 1045,2151" fill="#b8d8e6"/>
<polygon points="1045,2151 1216,2235 1216,2412 1045,2327" fill="url(#cubeL)" stroke="#111" stroke-width="2"/>
<polygon points="1216,2235 1327,2178 1327,2354 1216,2412" fill="url(#cubeR)" stroke="#111" stroke-width="2"/>
<ellipse cx="1150" cy="2210" rx="90" ry="35" fill="#fff" opacity="0.75"/>
<ellipse cx="1230" cy="2250" rx="60" ry="25" fill="#fff" opacity="0.6"/>
<polygon points="1190,2300 1216,2290 1240,2310 1250,2380 1216,2412 1180,2395" fill="#2e5a2a" opacity="0.9"/>
<path d="M1150,2330 Q1180,2360 1200,2405" stroke="#d8c8a0" stroke-width="10" fill="none" opacity="0.7"/>
<polyline points="1159,2093 1159,2200" stroke="#111" stroke-width="1.5"/>
<polygon points="1159,2093 1327,2178 1216,2235 1045,2151" fill="none" stroke="#111" stroke-width="2"/>

<!-- pin -->
<path d="M1268,2510 L1276,2510 L1280,2548 L1294,2566 L1279,2580 L1275,2692 L1270,2692 L1266,2580 L1262,2568 L1272,2550 Z" fill="#c8895a" stroke="#111" stroke-width="1.5"/>
<path d="M1308,2514 L1316,2514 L1316,2548 L1322,2570 L1312,2582 L1306,2692 L1300,2692 L1298,2580 L1288,2566 L1306,2548 Z" fill="#c8895a" stroke="#111" stroke-width="1.5"/>
<path d="M1280,2566 L1293,2558 L1306,2566 L1293,2574 Z" fill="none" stroke="#eee" stroke-width="2"/>
</svg>
</body></html>
